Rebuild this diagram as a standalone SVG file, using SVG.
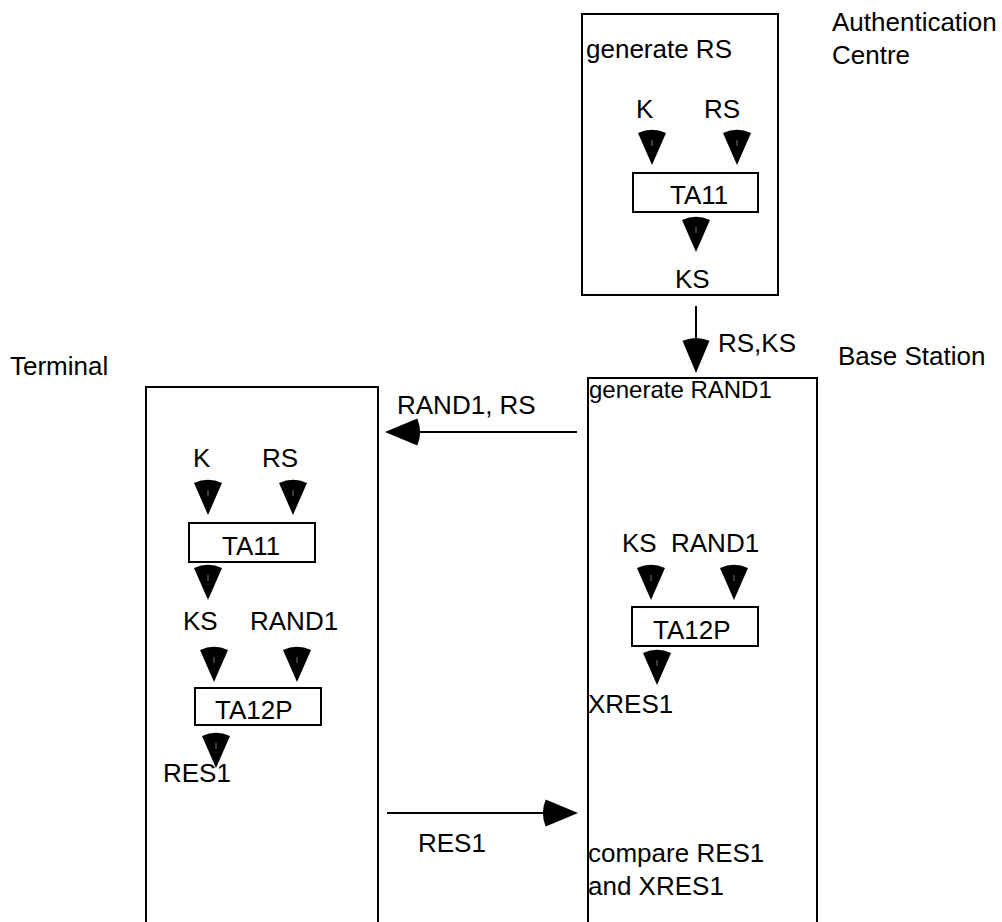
<svg xmlns="http://www.w3.org/2000/svg" xmlns:xlink="http://www.w3.org/1999/xlink" width="1002" height="922" viewBox="0 0 1002 922">
<style>
text{font-family:"Liberation Sans",Arial,sans-serif;font-size:26px;fill:#000}
.box{fill:#fff;stroke:#000;stroke-width:2}
.fn{fill:#fff;stroke:#000;stroke-width:2}
.conn{stroke:#000;stroke-width:2;fill:none}
</style>
<defs>
<g id="wedge">
<path d="M0,0 L-14,-32.1 A35,35 0 0,1 14,-32.1 Z" fill="#000"/>
<line x1="0" y1="-25" x2="0" y2="-19" stroke="#777" stroke-width="1"/>
</g>
<marker id="ah" viewBox="-26 -15 37 30" refX="0" refY="0" markerWidth="37" markerHeight="30" markerUnits="userSpaceOnUse" orient="auto">
<path d="M10,0 L-22.3,-13.5 A35,35 0 0,0 -22.3,13.5 Z" fill="#000"/>
</marker>
</defs>
<rect width="1002" height="922" fill="#fff"/>

<g id="auth-centre">
<rect class="box" x="582" y="14" width="196" height="281"/>
<text x="586" y="58">generate RS</text>
<text x="832" y="31">Authentication</text>
<text x="832" y="64">Centre</text>
<text x="636" y="118">K</text>
<text x="704" y="118">RS</text>
<use xlink:href="#wedge" x="652" y="165"/>
<use xlink:href="#wedge" x="737" y="165"/>
<rect class="fn" x="633" y="173" width="125" height="39"/>
<text x="670" y="204">TA11</text>
<use xlink:href="#wedge" x="696" y="252"/>
<text x="675" y="288">KS</text>
</g>

<g id="base-station">
<rect class="box" x="588" y="378" width="229" height="570"/>
<text x="589" y="398" style="font-size:24px">generate RAND1</text>
<text x="838" y="365">Base Station</text>
<text x="622" y="552">KS</text>
<text x="671" y="552">RAND1</text>
<use xlink:href="#wedge" x="651" y="600"/>
<use xlink:href="#wedge" x="734" y="600"/>
<rect class="fn" x="632" y="607" width="126" height="39"/>
<text x="653" y="639">TA12P</text>
<use xlink:href="#wedge" x="657" y="685"/>
<text x="588" y="713">XRES1</text>
<text x="588" y="862">compare RES1</text>
<text x="588" y="895">and XRES1</text>
</g>

<g id="terminal">
<rect class="box" x="146" y="387" width="232" height="570"/>
<text x="10" y="375">Terminal</text>
<text x="193" y="467">K</text>
<text x="262" y="467">RS</text>
<use xlink:href="#wedge" x="208" y="515"/>
<use xlink:href="#wedge" x="293" y="515"/>
<rect class="fn" x="189" y="523" width="126" height="39"/>
<text x="222" y="555">TA11</text>
<use xlink:href="#wedge" x="208" y="600"/>
<text x="183" y="630">KS</text>
<text x="250" y="630">RAND1</text>
<use xlink:href="#wedge" x="214" y="682"/>
<use xlink:href="#wedge" x="297" y="682"/>
<rect class="fn" x="195" y="688" width="126" height="37"/>
<text x="215" y="719">TA12P</text>
<use xlink:href="#wedge" x="216" y="768"/>
<text x="163" y="782">RES1</text>
</g>

<g id="connectors">
<line class="conn" x1="696" y1="306" x2="696" y2="363" marker-end="url(#ah)"/>
<text x="718" y="352">RS,KS</text>
<line class="conn" x1="577" y1="432" x2="395" y2="432" marker-end="url(#ah)"/>
<text x="397" y="414">RAND1, RS</text>
<line class="conn" x1="387" y1="813" x2="568" y2="813" marker-end="url(#ah)"/>
<text x="418" y="852">RES1</text>
</g>
</svg>
